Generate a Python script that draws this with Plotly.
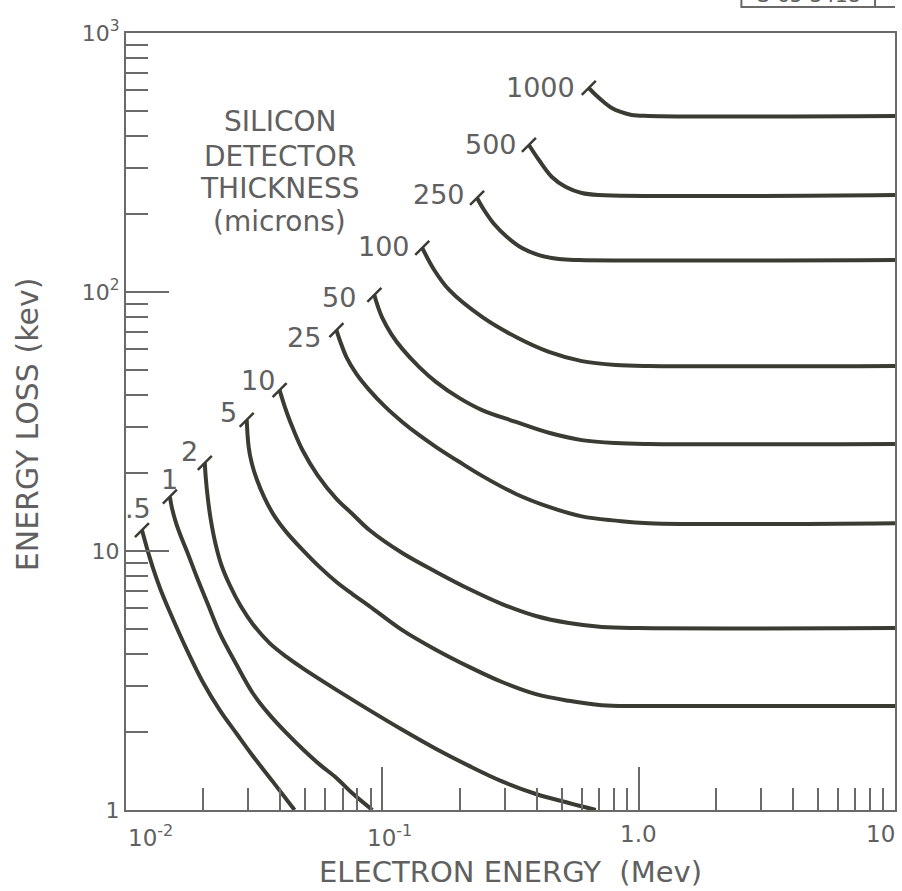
import numpy as np
import plotly.graph_objects as go

# ---------------- data ----------------
# electron energy (MeV) vs energy loss (keV), one curve per silicon thickness (microns)
x_05 = [0.011540, 0.011856, 0.012289, 0.012737, 0.013564, 0.014831, 0.017272, 0.019935, 0.023214,
        0.027033, 0.031201, 0.037324, 0.045454]
y_05 = [12.05, 10.93, 9.65, 8.60, 7.20, 5.81, 4.15, 3.12, 2.43, 1.97, 1.62, 1.29, 1.0]

x_1 = [0.014831, 0.015099, 0.015650, 0.016368, 0.017272, 0.018889, 0.020848, 0.023214, 0.027033,
       0.031201, 0.036333, 0.042311, 0.048846, 0.056862, 0.066221, 0.076429, 0.091435]
y_1 = [16.2, 14.7, 12.9, 11.4, 10.0, 7.94, 6.24, 4.82, 3.63, 2.83, 2.33, 1.98, 1.72, 1.50, 1.33, 1.16, 1.0]

x_2 = [0.02030, 0.02048, 0.02085, 0.02142, 0.02240, 0.02363, 0.02539, 0.02802, 0.03120, 0.03633, 0.04231,
       0.04885, 0.05686, 0.06622, 0.08901, 0.11963, 0.16224, 0.21807, 0.29312, 0.39740, 0.53417, 0.68038]
y_2 = [21.9, 19.1, 16.0, 13.2, 10.55, 8.75, 7.39, 6.13, 5.23, 4.41, 3.90, 3.53, 3.20, 2.91, 2.43, 2.04,
       1.72, 1.48, 1.29, 1.153, 1.064, 1.0]

x_5 = [0.02957, 0.03010, 0.03092, 0.03234, 0.03474, 0.03800, 0.04231, 0.04885, 0.05686, 0.06622, 0.07643,
       0.08901, 0.11963, 0.16224, 0.21807, 0.29312, 0.39740, 0.53417, 0.71787, 1.0, 10.0]
y_5 = [32.1, 25.2, 21.9, 18.97, 16.0, 13.6, 11.8, 10.1, 8.68, 7.59, 6.82, 6.13, 4.95, 4.15, 3.57, 3.12,
       2.80, 2.64, 2.54, 2.52, 2.52]

x_10 = [0.03974, 0.04082, 0.04231, 0.04505, 0.04885, 0.05585, 0.06622, 0.07643, 0.08901, 0.11963, 0.16224,
        0.21807, 0.29312, 0.39740, 0.53417, 0.71787, 1.0, 10.0]
y_10 = [41.8, 38.3, 34.4, 29.3, 24.5, 19.65, 15.9, 13.9, 12.05, 9.82, 8.30, 7.13, 6.24, 5.61, 5.27, 5.09,
        5.04, 5.04]

x_25 = [0.06622, 0.06864, 0.07243, 0.07922, 0.08901, 0.10272, 0.11963, 0.13933, 0.16224, 0.19935, 0.24494,
        0.33216, 0.44650, 0.60006, 0.81383, 1.0937, 10.0]
y_25 = [71.3, 64.1, 56.1, 48.3, 41.8, 36.0, 31.5, 28.0, 25.2, 22.1, 19.5, 16.6, 14.8, 13.6, 13.1, 12.8, 12.8]

x_50 = [0.09309, 0.09562, 0.1000, 0.10840, 0.11963, 0.13933, 0.16224, 0.19935, 0.24494, 0.33216, 0.44650,
        0.60006, 0.81383, 1.0937, 10.0]
y_50 = [97.4, 89.1, 79.4, 68.8, 60.3, 51.3, 44.9, 39.0, 35.0, 31.5, 28.6, 26.8, 26.1, 25.9, 25.9]

x_100 = [0.14312, 0.15935, 0.18229, 0.24494, 0.33216, 0.44650, 0.60006, 0.81383, 1.0937, 10.0]
y_100 = [148.0, 121.6, 101.8, 80.1, 67.0, 58.7, 54.1, 52.3, 51.8, 51.8]

x_250 = [0.23419, 0.24937, 0.27285, 0.30648, 0.35051, 0.40823, 0.48846, 0.58422, 10.0]
y_250 = [230.7, 207.3, 183.0, 163.1, 147.9, 138.9, 134.1, 132.9, 132.9]

x_500 = [0.37324, 0.40823, 0.45866, 0.51999, 0.60006, 0.69891, 10.0]
y_500 = [369.5, 323.3, 278.0, 254.3, 241.1, 236.9, 236.9]

x_1000 = [0.63897, 0.68038, 0.73085, 0.78519, 0.85112, 0.93925, 1.0937, 10.0]
y_1000 = [613.3, 576.3, 541.5, 513.4, 495.5, 482.5, 478.2, 478.2]

thickness_labels = [".5", "1", "2", "5", "10", "25", "50", "100", "250", "500", "1000"]

x_tick_vals = [0.01, 0.1, 1.0, 10.0]
x_tick_text = ["10<sup>-2</sup>", "10<sup>-1</sup>", "1.0", "10"]
y_tick_vals = [1, 10, 100, 1000]
y_tick_text = ["1", "10", "10<sup>2</sup>", "10<sup>3</sup>"]

x_title = "ELECTRON ENERGY  (Mev)"
y_title = "ENERGY LOSS (kev)"
legend_lines = ["SILICON", "DETECTOR", "THICKNESS", "(microns)"]
stamp_text = "S-65-3418"

# ---------------- styling ----------------
curves_x = [x_05, x_1, x_2, x_5, x_10, x_25, x_50, x_100, x_250, x_500, x_1000]
curves_y = [y_05, y_1, y_2, y_5, y_10, y_25, y_50, y_100, y_250, y_500, y_1000]
# pixel offsets of each curve label from the start of its curve
label_dx = [11, 0, -5, -8, -3, -13, -16, -10, -10, -10, -12]
label_dy = [-22, -17, -11, -7, -10, 7, 3, -1, -3, 0, 0]
label_anchor = ["right", "center", "right", "right", "right", "right", "right", "right", "right", "right", "right"]
legend_y_px = [122, 156, 188, 221]

CURVE = "#393c33"
AXIS = "#6a6a6a"
TEXT = "#606060"
FONT = "DejaVu Sans"
PLOT_TOP, PLOT_BOTTOM, PLOT_LEFT, PLOT_RIGHT = 33, 810, 126, 897


def py_to_paper(py):
    return (PLOT_BOTTOM - py) / (PLOT_BOTTOM - PLOT_TOP)


def px_to_paper(px):
    return (px - PLOT_LEFT) / (PLOT_RIGHT - PLOT_LEFT)


fig = go.Figure()
for xs, ys in zip(curves_x, curves_y):
    fig.add_trace(go.Scatter(x=xs, y=ys, mode="lines",
                             line=dict(color=CURVE, width=4, shape="spline", smoothing=1.0),
                             hoverinfo="skip", showlegend=False))

# start tick marks
fig.add_trace(go.Scatter(x=[c[0] for c in curves_x], y=[c[0] for c in curves_y], mode="markers",
                         marker=dict(symbol="line-ne", size=14, color=CURVE, line=dict(color=CURVE, width=2.5)),
                         hoverinfo="skip", showlegend=False))

annotations = []
for xs, ys, lab, dx, dy, anc in zip(curves_x, curves_y, thickness_labels, label_dx, label_dy, label_anchor):
    annotations.append(dict(x=np.log10(xs[0]), y=np.log10(ys[0]), xref="x", yref="y", text=lab, showarrow=False,
                            xanchor=anc, yanchor="middle", xshift=dx, yshift=-dy,
                            font=dict(family=FONT, size=27, color=TEXT)))

# x tick labels
x_lab_anchor = ["left", "center", "center", "right"]
x_lab_shift = [0, 7, 0, 2]
for v, t, anc, sh in zip(x_tick_vals, x_tick_text, x_lab_anchor, x_lab_shift):
    annotations.append(dict(x=np.log10(v), y=-0.012, xref="x", yref="paper", text=t, showarrow=False,
                            xanchor=anc, yanchor="top", xshift=sh,
                            font=dict(family=FONT, size=23, color=TEXT)))

annotations.append(dict(x=0.5, y=py_to_paper(872), xref="paper", yref="paper", text=x_title,
                        showarrow=False, xanchor="center", yanchor="middle",
                        font=dict(family=FONT, size=29, color=TEXT)))
annotations.append(dict(x=px_to_paper(27), y=py_to_paper(424), xref="paper", yref="paper", text=y_title,
                        showarrow=False, textangle=-90, xanchor="center", yanchor="middle",
                        font=dict(family=FONT, size=30, color=TEXT)))
for line, ly in zip(legend_lines, legend_y_px):
    annotations.append(dict(x=px_to_paper(280), y=py_to_paper(ly), xref="paper", yref="paper", text=line,
                            showarrow=False, xanchor="center", yanchor="middle",
                            font=dict(family=FONT, size=28, color=TEXT)))
annotations.append(dict(x=px_to_paper(810), y=py_to_paper(9), xref="paper", yref="paper", text=stamp_text,
                        showarrow=False, xanchor="center", yanchor="bottom",
                        font=dict(family=FONT, size=20, color=TEXT)))

minor_x = [m * 10.0 ** d for d in (-2, -1, 0) for m in range(2, 10)]
minor_y = [m * 10.0 ** d for d in (0, 1, 2) for m in range(2, 10)]

fig.update_xaxes(type="log", range=[-2, 1], showline=True, mirror=True, linecolor=AXIS, linewidth=2,
                 showgrid=False, zeroline=False, ticks="inside", ticklen=43, tickwidth=2, tickcolor=AXIS,
                 tickvals=x_tick_vals, showticklabels=False,
                 minor=dict(ticks="inside", ticklen=22, tickwidth=2, tickcolor=AXIS, tickvals=minor_x, showgrid=False))
fig.update_yaxes(type="log", range=[0, 3], showline=True, mirror=True, linecolor=AXIS, linewidth=2,
                 showgrid=False, zeroline=False, ticks="inside", ticklen=43, tickwidth=2, tickcolor=AXIS,
                 tickvals=y_tick_vals, ticktext=y_tick_text, tickfont=dict(family=FONT, size=22, color=TEXT),
                 minor=dict(ticks="inside", ticklen=22, tickwidth=2, tickcolor=AXIS, tickvals=minor_y, showgrid=False))

fig.update_layout(width=902, height=891, margin=dict(l=PLOT_LEFT, r=902 - PLOT_RIGHT, t=PLOT_TOP, b=891 - PLOT_BOTTOM),
                  paper_bgcolor="white", plot_bgcolor="white", annotations=annotations,
                  shapes=[dict(type="rect", xref="paper", yref="paper", x0=px_to_paper(743), x1=px_to_paper(877),
                               y0=py_to_paper(7), y1=py_to_paper(-40), line=dict(color=AXIS, width=2)),
                          dict(type="line", xref="paper", yref="paper", x0=px_to_paper(877), x1=1.0,
                               y0=py_to_paper(7), y1=py_to_paper(7), line=dict(color=AXIS, width=2))])

fig.write_html("out.html")
